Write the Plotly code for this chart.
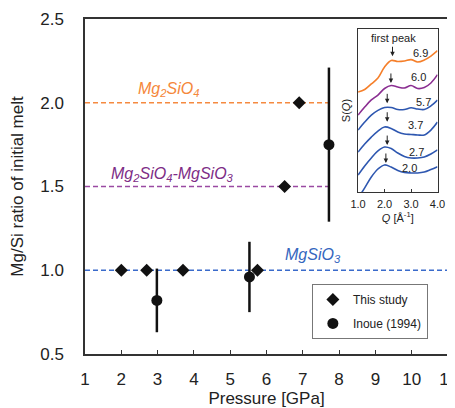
import plotly.graph_objects as go

# ---- main data ----
study_p = [2.0, 2.7, 3.7, 5.75, 6.5, 6.9]
study_r = [1.0, 1.0, 1.0, 1.0, 1.5, 2.0]

inoue_p = [2.98, 5.53, 7.72]
inoue_r = [0.82, 0.96, 1.75]
inoue_err = [0.19, 0.21, 0.46]

ref_vals = [2.0, 1.5, 1.0]
ref_end = [7.8, 7.8, 11.0]
ref_colors = ["#F58A40", "#9A4AA2", "#3A6BCB"]
ref_text = ["Mg<sub>2</sub>SiO<sub>4</sub>",
            "Mg<sub>2</sub>SiO<sub>4</sub>-MgSiO<sub>3</sub>",
            "MgSiO<sub>3</sub>"]
ref_text_colors = ["#F5873A", "#7D2C86", "#3566BE"]
ref_text_x = [3.29, 3.4, 7.28]
ref_text_y = [2.08, 1.57, 1.09]

# ---- inset data: S(Q) curves (offset) ----
q_grid = [1.0, 1.25, 1.5, 1.75, 2.0, 2.25, 2.5, 2.75, 3.0, 3.25, 3.5, 3.75, 4.0]
sq_69 = [6.13, 6.29, 6.63, 6.99, 7.67, 8.07, 8.01, 8.04, 8.12, 7.98, 8.10, 8.34, 8.67]
sq_60 = [4.72, 5.21, 5.65, 5.95, 6.35, 6.53, 6.44, 6.38, 6.53, 6.35, 6.41, 6.69, 7.20]
sq_57 = [3.80, 4.29, 4.72, 5.01, 5.18, 5.18, 5.06, 5.06, 5.17, 5.09, 5.06, 5.28, 5.64]
sq_37 = [2.45, 2.94, 3.37, 3.74, 3.99, 3.90, 3.68, 3.56, 3.53, 3.50, 3.50, 3.80, 4.29]
sq_27 = [1.04, 1.60, 2.09, 2.52, 2.76, 2.67, 2.39, 2.18, 2.09, 2.09, 2.15, 2.33, 2.58]
sq_20 = [-0.37, 0.25, 0.92, 1.41, 1.66, 1.53, 1.32, 1.20, 1.17, 1.17, 1.23, 1.38, 1.55]
sq_curves = [sq_69, sq_60, sq_57, sq_37, sq_27, sq_20]
sq_colors = ["#F57F2A", "#8A2E91", "#2E57B0", "#2E57B0", "#2E57B0", "#2E57B0"]
sq_labels = ["6.9", "6.0", "5.7", "3.7", "2.7", "2.0"]
sq_label_q = [3.34, 3.27, 3.46, 3.15, 3.21, 2.96]
sq_label_s = [8.53, 7.04, 5.55, 4.11, 2.47, 1.49]
peak_q = [2.30, 2.24, 2.10, 2.10, 2.10, 2.05]
peak_s = [8.33, 6.69, 5.44, 4.31, 2.88, 1.78]

FONT = "Liberation Sans, Arial, Helvetica, sans-serif"
AX = "#333333"

fig = go.Figure()

# reference dashed lines
for v, e, c in zip(ref_vals, ref_end, ref_colors):
    fig.add_trace(go.Scatter(x=[1, e], y=[v, v], mode="lines",
                             line=dict(color=c, width=1.4, dash="5px,3px"),
                             showlegend=False, hoverinfo="skip"))

fig.add_trace(go.Scatter(
    x=inoue_p, y=inoue_r, mode="markers", name="Inoue (1994)",
    legendgroup="b", legendrank=2,
    marker=dict(symbol="circle", size=11, color="#111111"),
    error_y=dict(type="data", array=inoue_err, color="#111111", thickness=2.5, width=0)))

fig.add_trace(go.Scatter(
    x=study_p, y=study_r, mode="markers", name="This study",
    legendgroup="a", legendrank=1,
    marker=dict(symbol="diamond", size=10, color="#111111")))

# inset curves
for ys, c in zip(sq_curves, sq_colors):
    fig.add_trace(go.Scatter(x=q_grid, y=ys, mode="lines", xaxis="x2", yaxis="y2",
                             line=dict(color=c, width=1.6, shape="spline", smoothing=1.0),
                             showlegend=False, hoverinfo="skip"))

ann = []
for t, c, x, y in zip(ref_text, ref_text_colors, ref_text_x, ref_text_y):
    ann.append(dict(x=x, y=y, xref="x", yref="y", text="<i>" + t + "</i>",
                    showarrow=False, font=dict(size=16, color=c, family=FONT)))
for t, x, y in zip(sq_labels, sq_label_q, sq_label_s):
    ann.append(dict(x=x, y=y, xref="x2", yref="y2", text=t, showarrow=False,
                    font=dict(size=11, color="#222222", family=FONT)))
for x, y in zip(peak_q, peak_s):
    ann.append(dict(x=x, y=y, xref="x2", yref="y2", text="", showarrow=True,
                    ax=0, ay=-11, arrowhead=2, arrowsize=0.9, arrowwidth=1,
                    arrowcolor="#222222"))
ann.append(dict(x=2.33, y=9.45, xref="x2", yref="y2", text="first peak",
                showarrow=False, font=dict(size=11, color="#222222", family=FONT)))

fig.update_layout(
    width=455, height=400,
    margin=dict(l=77, r=15, t=11, b=54, autoexpand=False),
    paper_bgcolor="white", plot_bgcolor="white",
    font=dict(family=FONT, size=18, color="#222222"),
    xaxis=dict(range=[1, 11], dtick=1, tick0=1, showgrid=False, zeroline=False,
               automargin=False, ticklabeloverflow="allow",
               showline=True, linecolor=AX, linewidth=1.5, mirror=True,
               ticks="inside", ticklen=4, tickcolor=AX, ticklabelstandoff=9,
               tickfont=dict(size=17),
               title=dict(text="Pressure [GPa]", font=dict(size=17), standoff=0)),
    yaxis=dict(range=[0.5, 2.5], dtick=0.5, tick0=0.5, tickformat=".1f",
               showgrid=False, zeroline=False, automargin=False,
               showline=True, linecolor=AX, linewidth=1.5, mirror=True,
               ticks="", ticklabelstandoff=16, tickfont=dict(size=17),
               title=dict(text="Mg/Si ratio of initial melt", font=dict(size=17), standoff=12)),
    xaxis2=dict(domain=[0.7523, 0.9711], anchor="y2", range=[1, 4], automargin=False,
                tickvals=[1, 2, 3, 4], ticktext=["1.0", "2.0", "3.0", "4.0"],
                showgrid=False, zeroline=False, showline=True, linecolor=AX,
                linewidth=1, mirror=True, ticks="inside", ticklen=3, tickcolor=AX,
                tickfont=dict(size=11), ticklabelstandoff=2,
                title=dict(text="<i>Q</i> [Å<sup>-1</sup>]", font=dict(size=11), standoff=2)),
    yaxis2=dict(domain=[0.4836, 0.9701], anchor="x2", range=[0, 10], automargin=False,
                showticklabels=False, ticks="", showgrid=False, zeroline=False,
                showline=True, linecolor=AX, linewidth=1, mirror=True,
                title=dict(text="S(<i>Q</i>)", font=dict(size=11), standoff=4)),
    legend=dict(x=0.625, y=0.209, xanchor="left", yanchor="top",
                bordercolor="#777777", borderwidth=1, bgcolor="white",
                font=dict(size=12), tracegroupgap=5, traceorder="grouped",
                itemwidth=30),
    annotations=ann,
    showlegend=True,
)

fig.write_html("out.html")
